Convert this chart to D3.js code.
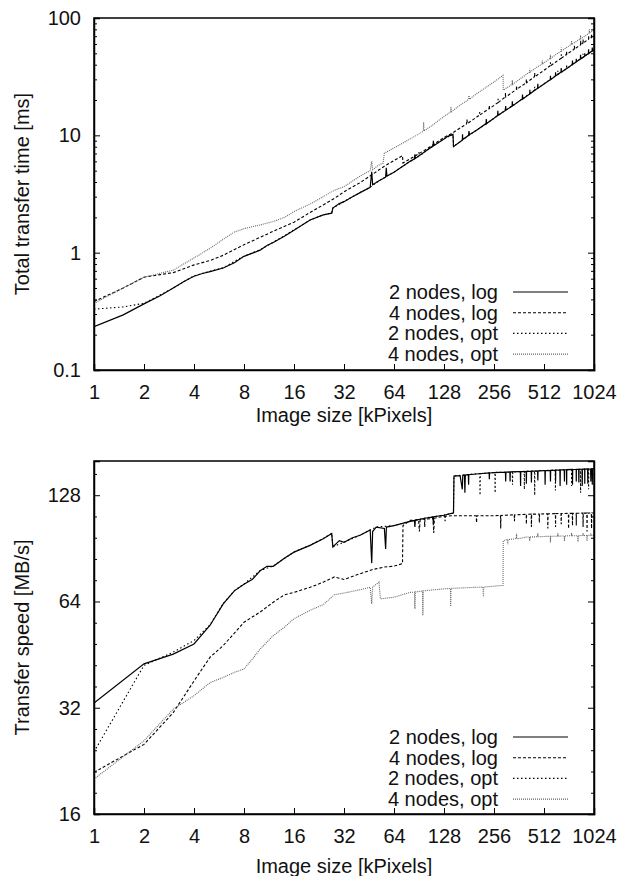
<!DOCTYPE html>
<html><head><meta charset="utf-8">
<script src="https://cdn.jsdelivr.net/npm/d3@7"></script>
<style>body{margin:0;background:#fff}text{font-family:"Liberation Sans",Arial,Helvetica,sans-serif;fill:#111}</style>
</head><body><svg id="c" width="620" height="876"></svg>
<script>
// ---------- data ----------
const xTicks = [1,2,4,8,16,32,64,128,256,512,1024];
const timeTicks = [0.1,1,10,100];
const speedTicks = [16,32,64,128];
const seriesNames = ["2 nodes, log","4 nodes, log","2 nodes, opt","4 nodes, opt"];

// Total transfer time [ms] vs image size [kPixels]
const time2log = [[1,0.234],[1.5,0.295],[2,0.366],[2.5,0.43],[3,0.5],[3.5,0.57],[4,0.63],[4.5,0.665],[5,0.69],[6,0.74],[7,0.82],[8,0.93],[9,0.99],[10,1.05],[11,1.15],[12,1.22],[14,1.38],[16,1.55],[20,1.9],[24,2.1],[27,2.17],[27.4,2.4],[30,2.62],[32,2.72],[36,3.0],[40,3.25],[46,3.6],[47,4.9],[47.6,3.8],[52,4.1],[57,4.4],[57.5,5.3],[58,4.5],[64,4.85],[80,6.0],[85,6.3],[85.5,6.9],[86,6.35],[100,7.4],[110,8.1],[110.5,9.0],[111,8.15],[128,9.3],[135,9.8],[145,10.2],[146,8.0],[160,8.8],[165,9.1],[165.5,10.2],[166,9.2],[180,10.0],[181,10.9],[182,10.1],[200,11.0],[256,14.0],[300,16.3],[301,17.8],[302,16.4],[362,19.5],[420,22.5],[421,24.5],[422,22.6],[512,27.4],[600,32],[601,34.5],[602,32.1],[724,38.3],[800,42.2],[801,45],[802,42.3],[900,47.3],[901,50],[902,47.4],[1024,53.5]];
const time4log = [[1,0.383],[1.5,0.5],[2,0.618],[2.5,0.65],[3,0.676],[4,0.787],[5,0.857],[6,0.95],[8,1.17],[10,1.35],[12,1.52],[16,1.82],[20,2.2],[24,2.55],[28,2.9],[32,3.3],[40,3.95],[48,4.7],[56,5.45],[64,6.1],[72,6.7],[72.5,5.8],[80,6.3],[100,7.6],[128,9.6],[145,10.5],[150,10.9],[175,12.5],[176,13.6],[177,12.6],[200,14.2],[256,18.0],[270,19.0],[271,20.5],[272,19.1],[300,21.2],[362,25.5],[400,28],[401,30],[402,28.1],[512,35.8],[600,42],[650,45.4],[651,49],[652,45.5],[724,50.5],[800,55.6],[850,59],[851,64],[852,59.2],[900,62.5],[950,66],[951,71],[952,66.2],[1024,70.5]];
const time2opt = [[1,0.33],[1.5,0.345],[2,0.37],[2.5,0.435],[3,0.5],[4,0.635],[5,0.695],[6,0.745],[8,0.935],[10,1.06],[12,1.23],[16,1.56],[20,1.9],[24,2.1],[27,2.18],[27.4,2.4],[32,2.73],[40,3.25],[46,3.62],[52,4.1],[64,4.86],[80,6.0],[90,6.6],[90.5,7.2],[91,6.65],[100,7.4],[128,9.35],[145,10.2],[146,8.05],[200,11.05],[230,12.5],[231,13.5],[232,12.6],[256,14.0],[362,19.5],[512,27.5],[700,37],[701,40],[702,37.1],[1024,53.8]];
const time4opt = [[1,0.37],[1.5,0.5],[2,0.618],[3,0.71],[4,0.9],[5,1.09],[6,1.3],[7,1.5],[8,1.6],[9,1.67],[10,1.72],[12,1.84],[14,2.0],[16,2.24],[20,2.6],[24,3.0],[28,3.4],[32,3.65],[40,4.5],[46,5.0],[47,6.0],[47.6,5.1],[52,5.6],[55,5.8],[56,7.05],[64,7.8],[80,9.3],[96,10.8],[96.5,13],[97,10.9],[110,12.3],[128,14.5],[140,15.8],[141,17.5],[142,15.9],[160,18.1],[180,20.2],[181,21.8],[182,20.3],[200,22.5],[256,28.5],[290,32.5],[291,24.3],[320,26.5],[362,29.8],[400,33],[450,37],[512,41.5],[600,48.5],[700,56],[800,63],[900,70],[1024,79]];
// spikes: [kPixels, line value, spike tip]
const time2logSpikes = [[230,12.6,13.8],[270,14.8,16.2],[330,17.8,19.5],[380,20.4,22.3],[470,25.2,27.5],[560,29.8,32.2],[650,34.6,37.5],[760,40.2,43.5],[850,44.8,48.5],[950,49.8,54],[1000,52.3,56]];
const time4logSpikes = [[210,14.9,15.8],[240,16.9,18],[300,21.2,23],[350,24.6,26.5],[450,31.6,34],[560,39.2,42],[700,48.9,52],[780,54.3,58],[880,61,65.5],[990,68.3,73]];
const time2optSpikes = [[300,16.3,17.5],[450,24.3,26],[620,33,35.5],[880,46.3,49.5]];
const time4optSpikes = [[330,27.2,29.5],[420,34.5,37],[500,40.6,43.5],[560,45.3,48.5],[650,52.2,56],[750,59.5,64],[850,66.5,71],[960,74.5,80]];

// Transfer speed [MB/s] vs image size [kPixels]
const speed2log = [[1,33],[2,42.6],[3,45.4],[4,48.5],[5,54.8],[6,63],[7,68.6],[8,71.6],[9,74],[10,78.2],[11,80.5],[12,80.5],[14,84.9],[16,88.3],[20,92.3],[24,96.4],[27,99.7],[27.4,91.3],[30,95.2],[32,94.1],[36,97],[40,98.6],[46,102],[47,82.2],[47.6,101],[50,104],[56,103],[57,90.2],[57.6,104],[64,105],[80,107.9],[85,108.5],[85.5,104],[86,108.7],[100,110.3],[110,111],[110.5,106],[111,111.2],[128,112.3],[140,113.5],[146,114],[147,145],[160,145.5],[165,133],[166,145.6],[170,146],[171,130],[172,146],[200,147],[256,148.4],[300,148.8],[301,140],[302,148.8],[362,149.3],[400,149.5],[401,138],[402,149.5],[512,150.3],[600,150.8],[601,140],[602,150.8],[700,151.2],[701,137],[702,151.2],[800,151.5],[801,140],[802,151.5],[900,151.8],[901,138],[902,151.8],[1024,152]];
const speed4log = [[1,21],[2,25.2],[3,31],[4,38.1],[5,44.5],[6,48],[8,55.9],[10,59.7],[12,63.7],[14,66.8],[16,67.9],[20,70.2],[24,72.6],[28,75.1],[32,73.9],[40,76.7],[48,78.9],[56,80.1],[64,80.6],[72,81.9],[72.5,105],[80,108.6],[90,109],[91,101],[92,109.3],[100,109.5],[110,110],[111,100],[112,110.2],[128,111.6],[145,112],[200,112],[201,107],[202,112],[256,112],[280,112.2],[281,103],[282,112.2],[400,113],[401,106],[402,113],[512,113.3],[600,113.5],[601,104],[602,113.5],[800,113.8],[801,105],[802,113.8],[1024,114]];
const speed2opt = [[1,24],[2,42.2],[3,46],[4,49.6],[5,55],[6,63.2],[7,68.7],[8,71.7],[10,78.3],[12,80.6],[16,88.4],[20,92.4],[24,96.5],[27,99.8],[27.4,91.4],[32,94.2],[40,98.7],[46,102],[50,104],[64,105],[80,108],[100,110.4],[128,112.4],[146,114],[147,145.2],[200,147.2],[210,147.3],[211,128],[212,147.3],[256,148.5],[330,149],[331,137],[332,149],[512,150.4],[750,151.3],[751,136],[752,151.3],[1024,152.2]];
const speed4opt = [[1,20.1],[2,25.8],[3,31.7],[4,34.6],[5,37.7],[6,39],[7,40.3],[8,41.2],[9,44],[10,46.9],[12,51.2],[14,54.1],[16,57.2],[20,60.4],[24,62.7],[28,66.9],[32,67.6],[40,69.1],[46,70.2],[47,63],[47.6,70.3],[52,72.6],[53,65.1],[64,65.8],[80,67.9],[85,68],[85.5,61],[86,68.1],[95,68.5],[95.5,58.4],[96,68.6],[128,69.5],[140,69.7],[140.5,62],[141,69.7],[200,70.2],[220,70.3],[221,66],[222,70.3],[280,71],[290,71],[291,95.2],[362,96.5],[400,97.4],[512,97.8],[700,98.2],[1024,98.5]];
const speed2logSpikes = [[180,146.3,137],[240,148,142],[320,149,140],[370,149.3,136],[430,149.8,139],[470,150,141],[520,150.3,137],[560,150.5,140],[640,151,136],[680,151.1,140],[760,151.4,137],[830,151.6,139],[870,151.7,136],[940,151.9,138],[980,152,140],[1000,152,137]];
const speed4logSpikes = [[98,109.5,104],[130,111.6,108],[340,112.6,108],[430,113.1,104],[480,113.2,107],[540,113.4,103],[650,113.6,106],[720,113.7,103],[760,113.7,105],[880,113.9,104],[930,113.9,101],[990,114,103]];
const speed2optSpikes = [[260,148.5,130],[390,149.5,133],[450,149.8,128],[600,150.8,132],[850,151.6,130],[950,151.9,133]];
const speed4optSpikes = [[310,95.8,93],[350,96.4,99.5],[420,97.5,95],[470,97.6,99.8],[560,97.9,94],[620,98,99.8],[680,98.1,95],[750,98.3,100],[820,98.3,94.5],[880,98.4,100],[930,98.4,95],[980,98.5,100]];

// ---------- drawing ----------
const svg = d3.select("#c");
const L = 94, R = 594;
const x = d3.scaleLog().base(2).domain([1,1024]).range([L,R]);
const styles = [
  {stroke:"#000", dash:null, w:1.2},
  {stroke:"#000", dash:"3,2", w:1.1},
  {stroke:"#000", dash:"1.5,2.5", w:1.1},
  {stroke:"#666", dash:"1,1", w:1.1}
];
function withSpikes(s, sp){
  const pts = s.slice();
  sp.forEach(([k,b,t])=>{pts.push([k*0.997,b],[k,t],[k*1.003,b]);});
  return pts.sort((a,b)=>a[0]-b[0]);
}

function panel(cfg){
  const y = cfg.y;
  const [yb, yt] = y.range();
  const g = svg.append("g");
  const clipId = "clip"+cfg.id;
  svg.append("clipPath").attr("id",clipId).append("rect")
    .attr("x",L).attr("y",yt).attr("width",R-L).attr("height",yb-yt);
  cfg.series.forEach((s,i)=>{
    const st = styles[i];
    g.append("path").datum(s)
      .attr("clip-path",`url(#${clipId})`)
      .attr("fill","none").attr("stroke",st.stroke).attr("stroke-width",st.w)
      .attr("stroke-dasharray",st.dash)
      .attr("d", d3.line().x(d=>x(d[0])).y(d=>y(d[1])));
  });
  g.append("g").attr("transform",`translate(0,${yb})`)
    .call(d3.axisBottom(x).tickValues(xTicks).tickFormat(d3.format("d")).tickSize(-6).tickPadding(15));
  g.append("g").attr("transform",`translate(${L},0)`)
    .call(d3.axisLeft(y).tickValues(cfg.yTicks).tickFormat(cfg.fmt).tickSize(-6).tickPadding(13));
  g.append("g").attr("transform",`translate(${R},0)`)
    .call(d3.axisRight(y).tickValues(cfg.yTicks).tickFormat("").tickSize(-6));
  g.append("g").attr("transform",`translate(${L},0)`)
    .call(d3.axisLeft(y).tickValues(cfg.minor).tickFormat("").tickSize(-3)).select(".domain").remove();
  g.append("g").attr("transform",`translate(${R},0)`)
    .call(d3.axisRight(y).tickValues(cfg.minor).tickFormat("").tickSize(-3)).select(".domain").remove();
  g.selectAll(".domain").attr("stroke","#000").attr("stroke-width",1.5);
  g.selectAll(".tick line").attr("stroke","#000").attr("stroke-width",1);
  g.selectAll(".tick text").attr("font-size",20).attr("font-family",'"Liberation Sans",Arial,sans-serif').attr("fill","#111");
  g.append("rect").attr("x",L).attr("y",yt).attr("width",R-L).attr("height",yb-yt)
    .attr("fill","none").attr("stroke","#000").attr("stroke-width",1.5);
  g.append("text").attr("x",(L+R)/2).attr("y",cfg.xTitleY).attr("text-anchor","middle")
    .attr("font-size",20).text("Image size [kPixels]");
  g.append("text").attr("transform",`translate(29,${(yt+yb)/2}) rotate(-90)`)
    .attr("text-anchor","middle").attr("font-size",20).text(cfg.yTitle);
  seriesNames.forEach((n,i)=>{
    const cy = cfg.legY + i*20.7;
    g.append("text").attr("x",498).attr("y",cy+7).attr("text-anchor","end").attr("font-size",20).text(n);
    const st = styles[i];
    g.append("line").attr("x1",513).attr("x2",568).attr("y1",cy).attr("y2",cy)
      .attr("stroke",st.stroke).attr("stroke-width",st.w).attr("stroke-dasharray",st.dash);
  });
}

const yTime = d3.scaleLog().domain([0.1,100]).range([370,18]);
const timeMinor = [];
[0.1,1,10].forEach(d=>{for(let m=2;m<=9;m++) timeMinor.push(d*m);});
panel({id:"t", y:yTime, yTicks:timeTicks, minor:timeMinor, fmt:d=>String(d),
  series:[withSpikes(time2log,time2logSpikes),withSpikes(time4log,time4logSpikes),withSpikes(time2opt,time2optSpikes),withSpikes(time4opt,time4optSpikes)],
  yTitle:"Total transfer time [ms]", xTitleY:422, legY:292});

const ySpeed = d3.scaleLog().base(2).domain([16,160]).range([814,461]);
const speedMinor = [];
speedTicks.forEach(d=>{for(let j=1;j<5;j++){const v=d*Math.pow(2,j/5); if(v<160) speedMinor.push(v);}});
panel({id:"s", y:ySpeed, yTicks:speedTicks, minor:speedMinor, fmt:d=>String(d),
  series:[withSpikes(speed2log,speed2logSpikes),withSpikes(speed4log,speed4logSpikes),withSpikes(speed2opt,speed2optSpikes),withSpikes(speed4opt,speed4optSpikes)],
  yTitle:"Transfer speed [MB/s]", xTitleY:873, legY:737});
</script></body></html>
